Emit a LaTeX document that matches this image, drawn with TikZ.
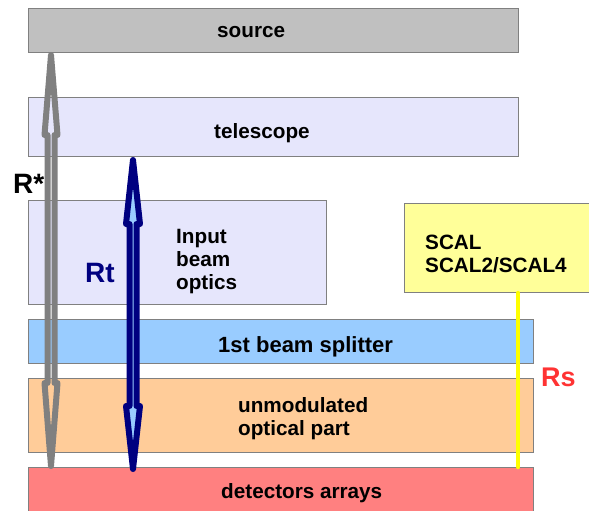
\documentclass[tikz,border=0pt]{standalone}
\usepackage{fontspec}
\setmainfont{Liberation Sans}
\usetikzlibrary{calc}
\definecolor{boxline}{RGB}{128,128,128}
\definecolor{srcgray}{RGB}{192,192,192}
\definecolor{lav}{RGB}{230,230,252}
\definecolor{scalfill}{RGB}{255,255,153}
\definecolor{bsfill}{RGB}{153,204,255}
\definecolor{umfill}{RGB}{255,204,153}
\definecolor{detfill}{RGB}{255,128,128}
\definecolor{navy}{RGB}{0,0,128}
\definecolor{arrgray}{RGB}{128,128,128}
\definecolor{rsred}{RGB}{255,51,51}
\definecolor{yel}{RGB}{255,255,0}
\begin{document}
\begin{tikzpicture}[x=1pt,y=-1pt,
  box/.style={draw=boxline, line width=1pt, inner sep=0pt, anchor=north west},
  lbl/.style={anchor=base west, inner sep=0pt, font=\fontsize{20.7}{23}\selectfont\bfseries},
  biglbl/.style={anchor=base west, inner sep=0pt, font=\fontsize{28}{30}\selectfont\bfseries},
  grayarrow/.style={draw=arrgray, line width=6pt, line join=round},
  bluearrow/.style={draw=navy, fill=bsfill, line width=6pt, line join=round},
  yelline/.style={draw=yel, line width=4.5pt, line cap=round}]
\useasboundingbox (0,0) rectangle (589,511);
% boxes
\node[box, fill=srcgray, minimum width=490pt, minimum height=44pt] (src) at (28,8) {};
\node[box, fill=lav, minimum width=490pt, minimum height=59pt] (tel) at (28,97) {};
\node[box, fill=lav, minimum width=298pt, minimum height=104pt] (ibo) at (28,200) {};
\node[box, fill=scalfill, minimum width=190pt, minimum height=89pt] (scal) at (404,203) {};
\node[box, fill=bsfill, minimum width=505pt, minimum height=44pt] (bs) at (28,319) {};
\node[box, fill=umfill, minimum width=505pt, minimum height=74pt] (um) at (28,378) {};
\node[box, fill=detfill, minimum width=505pt, minimum height=60pt] (det) at (28,467) {};
% texts
\node[lbl] (tsrc) at (217,38) {source};
\node[lbl] (ttel) at (214,138) {telescope};
\node[lbl] (tibo) at (176,243) {\begin{tabular}[t]{@{}l@{}}Input\\beam\\optics\end{tabular}};
\node[lbl, font=\fontsize{22}{23}\selectfont\bfseries] (tbs) at (218,352) {1st beam splitter};
\node[lbl] (tum) at (238,412) {\begin{tabular}[t]{@{}l@{}}unmodulated\\optical part\end{tabular}};
\node[lbl] (tdet) at (221,498) {detectors arrays};
\node[lbl] (tscal) at (425,249) {\begin{tabular}[t]{@{}l@{}}SCAL\\SCAL2/SCAL4\end{tabular}};
% axis coordinates
\coordinate (gx) at (51,0);
\coordinate (bx) at (133,0);
\coordinate (yx) at (518,0);
\coordinate (gT) at ($(src.south -| gx)+(0,2)$);
\coordinate (gB) at ($(det.north -| gx)+(0,-1)$);
\coordinate (bT) at ($(tel.south -| bx)+(0,3)$);
\coordinate (bB) at ($(det.north -| bx)+(0,2)$);
% R* arrow (gray, open)
\draw[grayarrow] (gT) -- ++(6.5,80) -- ++(-3,0) -- ($(gB)+(3.5,-83)$) -- ++(3,0) -- (gB)
  -- ++(-6.5,-83) -- ++(3,0) -- ($(gT)+(-3.5,80)$) -- ++(-3,0) -- cycle;
% Rt arrow (navy with light blue core)
\draw[bluearrow] (bT) -- ++(7,64) -- ++(-3.5,0) -- ($(bB)+(3.5,-63)$) -- ++(3.5,0) -- (bB)
  -- ++(-7,-63) -- ++(3.5,0) -- ($(bT)+(-3.5,64)$) -- ++(-3.5,0) -- cycle;
% Rs line
\draw[yelline] (scal.south -| yx) -- (det.north -| yx);
% arrow labels
\node[biglbl] (lrstar) at (13,193) {R*};
\node[biglbl, text=navy] (lrt) at (85,282) {Rt};
\node[biglbl, text=rsred, font=\fontsize{27}{30}\selectfont\bfseries] (lrs) at (541,386) {Rs};
\end{tikzpicture}
\end{document}
